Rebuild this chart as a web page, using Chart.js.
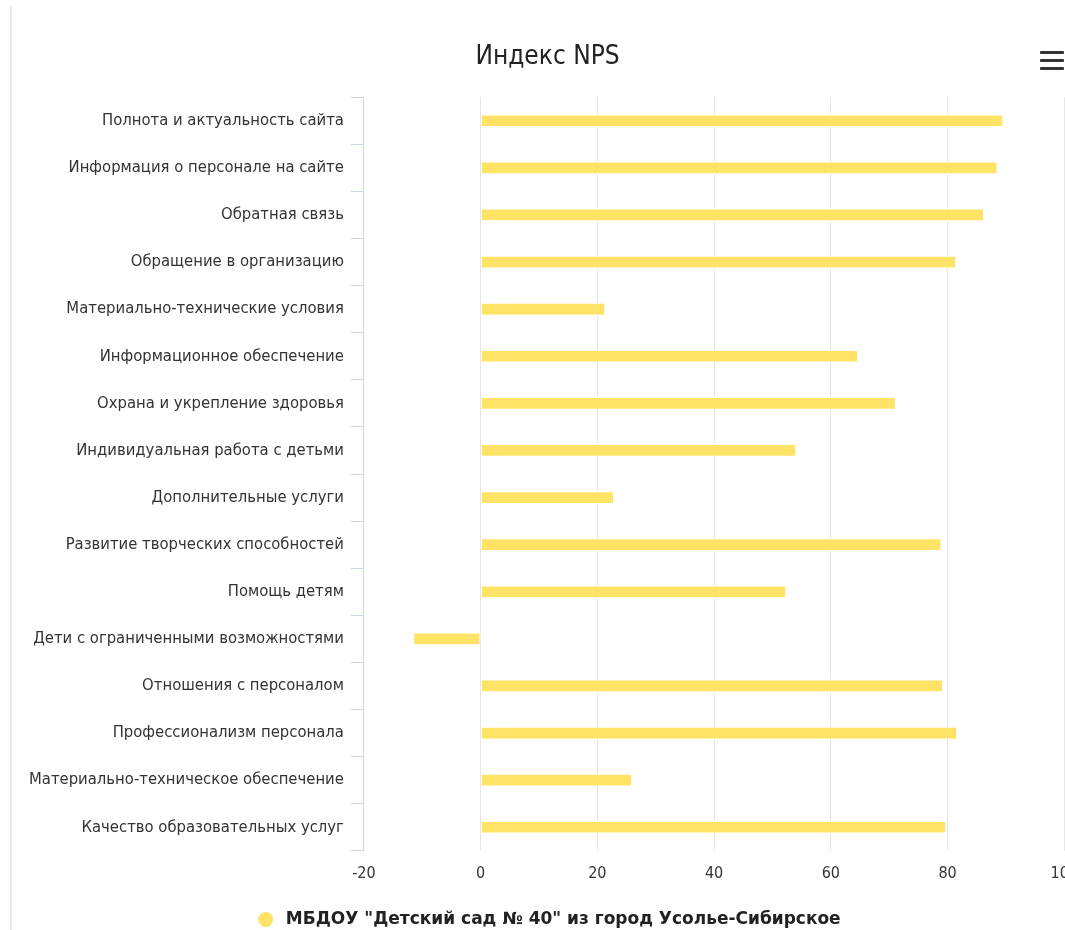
<!DOCTYPE html>
<html>
<head>
<meta charset="utf-8">
<script src="https://cdn.jsdelivr.net/npm/chart.js@4"></script>
<style>
    html, body { margin: 0; padding: 0; background: #fff; overflow: hidden; }
    body { width: 1065px; height: 930px; position: relative; }
    #frame { position: absolute; left: 10px; top: 6px; width: 2px; height: 924px; background: #f0e6e2; }
    #chart-box { position: absolute; left: 0; top: 20px; width: 1091px; height: 918px; }
    #menu { position: absolute; left: 1040px; top: 51px; width: 24px; }
    #menu span { display: block; height: 3px; background: #333; margin-bottom: 5px; border-radius: 1px; }
</style>
</head>
<body>
<div id="frame"></div>
<div id="chart-box"><canvas id="nps-chart"></canvas></div>
<div id="menu"><span></span><span></span><span></span></div>
<script>
// --- DATA ---
const categories = [
    'Полнота и актуальность сайта',
    'Информация о персонале на сайте',
    'Обратная связь',
    'Обращение в организацию',
    'Материально-технические условия',
    'Информационное обеспечение',
    'Охрана и укрепление здоровья',
    'Индивидуальная работа с детьми',
    'Дополнительные услуги',
    'Развитие творческих способностей',
    'Помощь детям',
    'Дети с ограниченными возможностями',
    'Отношения с персоналом',
    'Профессионализм персонала',
    'Материально-техническое обеспечение',
    'Качество образовательных услуг'
];
const npsValues = [89.5, 88.5, 86.2, 81.4, 21.3, 64.6, 71.1, 54.0, 22.8, 78.9, 52.3, -11.5, 79.2, 81.6, 25.9, 79.7];
const seriesName = 'МБДОУ "Детский сад № 40" из город Усолье-Сибирское';
const xTicks = [-20, 0, 20, 40, 60, 80, 100];

const barColor = '#ffe366';
const condensed = '"DejaVu Sans Condensed", "DejaVu Sans", sans-serif';
const regular = '"DejaVu Sans", Verdana, sans-serif';

// legend marker: a plain circle
const marker = document.createElement('canvas');
marker.width = 15;
marker.height = 15;
const mctx = marker.getContext('2d');
mctx.fillStyle = barColor;
mctx.beginPath();
mctx.arc(7.5, 7.5, 7.5, 0, Math.PI * 2);
mctx.fill();

new Chart(document.getElementById('nps-chart'), {
    type: 'bar',
    data: {
        labels: categories,
        datasets: [{
            label: seriesName,
            data: npsValues,
            backgroundColor: barColor,
            borderColor: '#ffffff',
            borderWidth: 1,
            barThickness: 12,
            borderSkipped: false
        }]
    },
    options: {
        indexAxis: 'y',
        responsive: true,
        maintainAspectRatio: false,
        animation: false,
        layout: { padding: { left: 22, right: 18, top: 0, bottom: 0 } },
        plugins: {
            title: {
                display: true,
                text: 'Индекс NPS',
                color: '#222',
                font: { family: condensed, size: 26, weight: 'normal' },
                padding: { top: 22, bottom: 24 }
            },
            legend: {
                position: 'bottom',
                labels: {
                    usePointStyle: true,
                    pointStyle: marker,
                    pointStyleWidth: 23,
                    boxHeight: 15,
                    color: '#222',
                    font: { family: regular, size: 17, weight: 'bold' },
                    padding: 6
                }
            },
            tooltip: { enabled: false }
        },
        scales: {
            x: {
                min: -20,
                max: 100,
                afterBuildTicks: function(axis) {
                    axis.ticks = xTicks.map(v => ({ value: v }));
                },
                afterFit: function(axis) {
                    axis.height += 9;
                },
                grid: { color: '#e6e6e6', drawTicks: false },
                border: { display: false },
                ticks: {
                    color: '#333',
                    font: { family: condensed, size: 16 },
                    padding: 13
                }
            },
            y: {
                grid: {
                    offset: true,
                    drawOnChartArea: false,
                    color: '#ccd6eb',
                    tickLength: 13
                },
                border: { display: true, color: '#ccd6eb' },
                ticks: {
                    color: '#333',
                    font: { family: condensed, size: 16.5 },
                    padding: 7,
                    autoSkip: false
                }
            }
        }
    }
});
</script>
</body>
</html>
